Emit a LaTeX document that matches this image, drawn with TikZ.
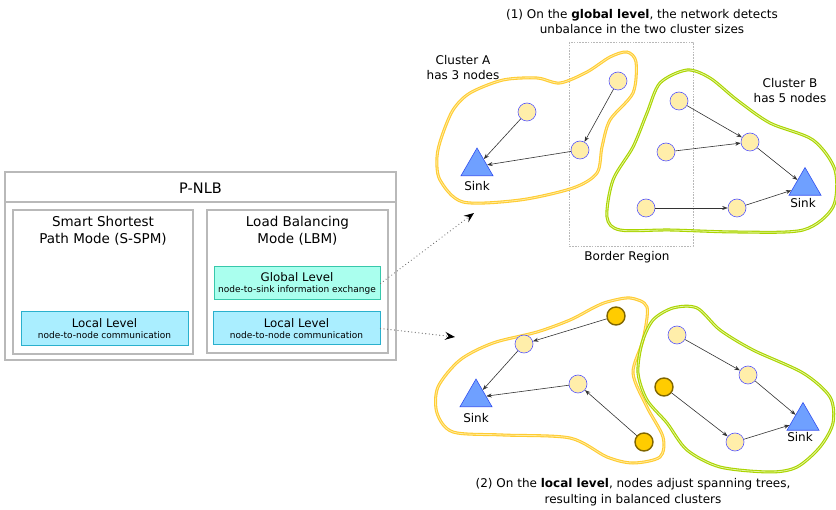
\documentclass[tikz,border=0pt]{standalone}
\usepackage{fontspec}
\setmainfont{DejaVu Sans}
\usetikzlibrary{shapes.geometric,arrows.meta}
\definecolor{boxgray}{RGB}{185,185,185}
\definecolor{locfill}{RGB}{170,238,255}
\definecolor{locdraw}{RGB}{42,176,205}
\definecolor{glofill}{RGB}{170,255,238}
\definecolor{glodraw}{RGB}{55,200,171}
\definecolor{nodefill}{RGB}{255,238,170}
\definecolor{nodedraw}{RGB}{85,85,255}
\definecolor{goldfill}{RGB}{255,204,0}
\definecolor{golddraw}{RGB}{128,102,0}
\definecolor{sinkfill}{RGB}{111,160,255}
\definecolor{sinkdraw}{RGB}{50,80,240}
\definecolor{clA}{RGB}{255,204,51}
\definecolor{clAin}{RGB}{255,236,160}
\definecolor{clB}{RGB}{170,212,0}
\definecolor{clBin}{RGB}{228,245,160}
\tikzset{
  frame/.style={draw=boxgray, line width=1.1pt},
  lvl/.style={rectangle, line width=1pt, minimum width=167pt, minimum height=34pt, inner sep=0pt, align=center},
  sn/.style={circle, fill=nodefill, draw=nodedraw, line width=0.6pt, minimum size=18pt, inner sep=0pt},
  gn/.style={circle, fill=goldfill, draw=golddraw, line width=1.4pt, minimum size=18pt, inner sep=0pt},
  sinknode/.style={regular polygon, regular polygon sides=3, fill=sinkfill, draw=sinkdraw, line width=0.6pt, minimum size=37pt, inner sep=0pt},
  lab/.style={font=\fontsize{12}{15}\selectfont, align=center, inner sep=0pt},
  edge/.style={draw=black!80, line width=0.6pt, -{Stealth[length=5.5pt,width=4pt]}},
  dots/.style={draw=black!55, line width=1.2pt, dash pattern=on 0.1pt off 3.4pt, line cap=round, -{Stealth[length=10pt,width=8pt,inset=3.5pt,black]}},
  clusterA/.style={draw=clA, line width=1.1pt, double=clAin, double distance=0.8pt},
  clusterB/.style={draw=clB, line width=1.1pt, double=clBin, double distance=0.8pt},
}
\begin{document}
\begin{tikzpicture}[x=1pt,y=-1pt]
\useasboundingbox (0,0) rectangle (836,510);

% ---------- P-NLB block ----------
\draw[frame] (5,172) rectangle (396,360);
\draw[frame] (5,202) -- (396,202);
\node[lab, font=\fontsize{14.5}{17}\selectfont] (title) at (200.5,188) {P-NLB};
\draw[frame] (13,210) rectangle (193,354);
\draw[frame] (207,210) rectangle (388,353);
\node[lab, font=\fontsize{13.5}{17}\selectfont] (sspm) at (103,231) {Smart Shortest\\Path Mode (S-SPM)};
\node[lab, font=\fontsize{13.5}{17}\selectfont] (lbm) at (297.5,231) {Load Balancing\\Mode (LBM)};

\node[lvl, fill=locfill, draw=locdraw] (locL) at (104.5,329)
  {{\fontsize{11.8}{14}\selectfont Local Level}\\[-1pt]{\fontsize{9}{11}\selectfont node-to-node communication}};
\node[lvl, fill=glofill, draw=glodraw, minimum width=166pt, minimum height=33pt] (glo) at (297,283.5)
  {{\fontsize{11.8}{14}\selectfont Global Level}\\[-1pt]{\fontsize{9}{11}\selectfont node-to-sink information exchange}};
\node[lvl, fill=locfill, draw=locdraw, minimum height=33pt] (locR) at (296.5,328.5)
  {{\fontsize{11.8}{14}\selectfont Local Level}\\[-1pt]{\fontsize{9}{11}\selectfont node-to-node communication}};

% ---------- dotted connectors ----------
\coordinate (tipG) at (474,213);
\coordinate (tipL) at (455,337);
\draw[dots] (glo.east) -- (tipG);
\draw[dots] (locR.east) -- (tipL);

% ---------- top scene ----------
\node[lab] (cap1) at (642,22) {(1) On the \textbf{global level}, the network detects\\unbalance in the two cluster sizes};
\draw[draw=black!28, line width=0.9pt, dash pattern=on 1.6pt off 1.2pt] (569,42) rectangle (693,246);
\node[lab] (border) at (627,257) {Border Region};
\node[lab] (clAlab) at (463,67.5) {Cluster A\\has 3 nodes};
\node[lab] (clBlab) at (790,90.5) {Cluster B\\has 5 nodes};

\draw[clusterA] plot[smooth cycle, tension=0.5] coordinates {
 (453,110) (470,93) (503,80) (537,78) (560,83) (587,72) (610,57) (627,52) (636,62)
 (633,93) (610,120) (602,147) (597,173) (573,188) (520,200) (463,202) (440,180) (437,157) (441.7,136.7)};
\draw[clusterB] plot[smooth cycle, tension=0.5] coordinates {
 (687,70) (710,78) (737,100) (770,123) (813,140) (835,170) (833,207) (803,230)
 (737,232) (670,230) (620,230) (607,217) (613,180) (633,147) (647,113) (660,83)};

\node[sn] (a1) at (527,112) {};
\node[sn] (a2) at (618,81) {};
\node[sn] (a3) at (580,150) {};
\node[sinknode] (sinkA) at (477,166.5) {};
\node[lab] (sinkAl) at (477,186) {Sink};
\node[sn] (b1) at (679,101) {};
\node[sn] (b2) at (750,142) {};
\node[sn] (b3) at (666,152) {};
\node[sn] (b4) at (646,208) {};
\node[sn] (b5) at (737,208) {};
\node[sinknode] (sinkB) at (805,186) {};
\node[lab] (sinkBl) at (803,203) {Sink};

\draw[edge] (a1) -- (sinkA);
\draw[edge] (a2) -- (a3);
\draw[edge] (a3) -- (sinkA);
\draw[edge] (b1) -- (b2);
\draw[edge] (b3) -- (b2);
\draw[edge] (b2) -- (sinkB);
\draw[edge] (b4) -- (b5);
\draw[edge] (b5) -- (sinkB);

% ---------- bottom scene ----------
\draw[clusterA] plot[smooth cycle, tension=0.5] coordinates {
 (607,302) (630,298) (647,307) (643,340) (633,373) (647,407) (663,437) (660,457)
 (633,463) (607,457) (570,438) (503,435) (453,432) (437,413) (438,387) (460,360)
 (493,343) (537,332) (570,320) (593,308)};
\draw[clusterB] plot[smooth cycle, tension=0.5] coordinates {
 (653,320) (673,308) (697,308) (720,330) (753,350) (803,373) (830,397) (833,423)
 (820,447) (797,467) (770,472) (720,467) (687,450) (667,423) (647,400) (638,373) (642,343)};

\node[gn] (c1) at (616,316) {};
\node[sn] (c2) at (524,344) {};
\node[sn] (c3) at (578,384) {};
\node[gn] (c4) at (644,442) {};
\node[sinknode] (sinkC) at (476,397.5) {};
\node[lab] (sinkCl) at (476,418) {Sink};
\node[sn] (d1) at (677,335) {};
\node[sn] (d2) at (748,375) {};
\node[gn] (d3) at (664,387) {};
\node[sn] (d4) at (735,442) {};
\node[sinknode] (sinkD) at (803,421) {};
\node[lab] (sinkDl) at (800,437) {Sink};

\draw[edge] (c1) -- (c2);
\draw[edge] (c2) -- (sinkC);
\draw[edge] (c3) -- (sinkC);
\draw[edge] (c4) -- (c3);
\draw[edge] (d1) -- (d2);
\draw[edge] (d2) -- (sinkD);
\draw[edge] (d3) -- (d4);
\draw[edge] (d4) -- (sinkD);

\node[lab, font=\fontsize{12}{16}\selectfont] (cap2) at (633,492) {(2) On the \textbf{local level}, nodes adjust spanning trees,\\resulting in balanced clusters};
\end{tikzpicture}
\end{document}
